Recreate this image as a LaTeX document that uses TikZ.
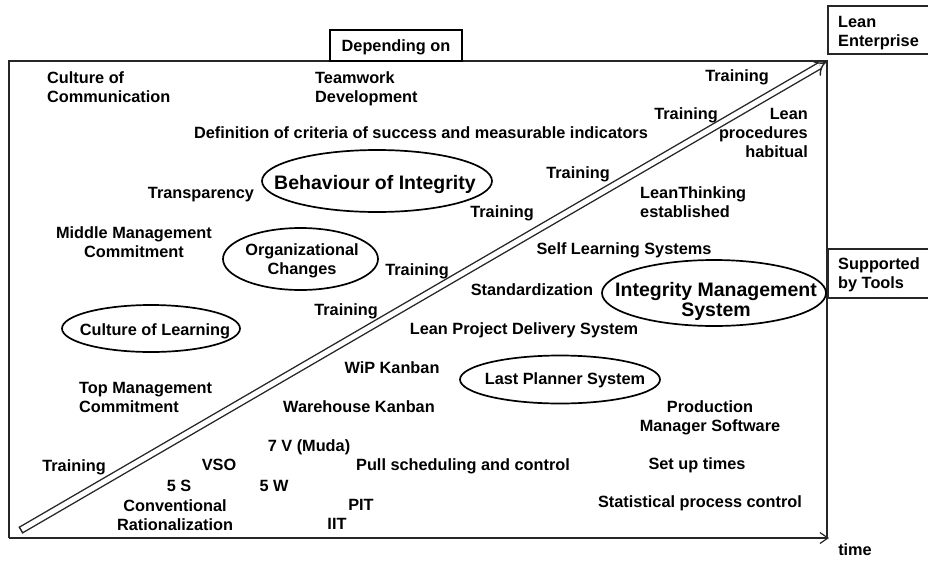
\documentclass[tikz,border=0pt]{standalone}
\usepackage{fontspec}
\setmainfont{Liberation Sans}
\usetikzlibrary{arrows.meta,calc}
\begin{document}
\begin{tikzpicture}[x=1pt,y=-1pt,
  txt/.style={font=\fontsize{16.3}{19}\selectfont\bfseries, inner sep=0pt, text height=11.7pt, text depth=0pt},
  multi/.style={font=\fontsize{16.3}{19}\selectfont\bfseries, inner sep=0pt, align=#1},
  bigtxt/.style={font=\fontsize{19.5}{20}\selectfont\bfseries, inner sep=0pt, align=center},
  oval/.style={line width=1.7pt},
  frame/.style={line width=1.2pt, draw=black!85},
  trail/.style={line width=1.4pt, draw=black!85, double=white, double distance=5pt}]
\useasboundingbox (0,0) rectangle (929,560);

% outer frame with time axis
\coordinate (tl) at (9,61);
\coordinate (tr) at (827,61);
\coordinate (bl) at (9,538);
\coordinate (br) at (827,538);
\coordinate (axisend) at (829,538);
\draw[frame] (br) -- (tr) -- (tl) -- (bl);
\draw[frame, -{Straight Barb[length=8pt,width=11pt]}] (bl) -- (axisend);
\node[txt] (time) at (855,550) {time};

% header boxes
\node[txt, draw, line width=1.2pt, minimum width=132pt, minimum height=31pt] (dep) at (396,45.5) {Depending on};
\draw[frame] (928,6) -- (828,6) -- (828,54) -- (928,54);
\node[multi=left, anchor=north west] (lean) at (838,16) {Lean\\Enterprise};
\draw[frame] (928,249) -- (828,249) -- (828,298) -- (928,298);
\node[multi=left, anchor=north west] (tools) at (838,257) {Supported\\by Tools};

% rising double arrow
\coordinate (tail) at (21,530);
\coordinate (tip) at (826,62);
\draw[trail, -{Implies}] (tail) -- (tip);
\draw[frame, line width=1.4pt] ($(tail)!3.9pt!90:(tip)$) -- ($(tail)!3.9pt!-90:(tip)$);

% upper-left field
\node[multi=left, anchor=north west] (comm) at (47,71) {Culture of\\Communication};
\node[multi=left, anchor=north west] (team) at (315,71) {Teamwork\\Development};
\node[txt] (crit) at (421,133) {Definition of criteria of success and measurable indicators};
\node[txt] (transp) at (201,193) {Transparency};
\node[bigtxt, text height=14pt, text depth=0pt] (behav) at (375,182) {Behaviour of Integrity};
\draw[oval] (377,181) ellipse [x radius=115, y radius=31];
\node[multi=center, anchor=north] (middle) at (134,226) {Middle Management\\Commitment};
\node[multi=center] (org) at (302,261) {Organizational\\Changes};
\draw[oval] (300.5,259) ellipse [x radius=77.5, y radius=31];
\node[txt] (learn) at (155,330) {Culture of Learning};
\draw[oval] (151,328.5) ellipse [x radius=89, y radius=23.5];
\node[multi=left, anchor=north west] (top) at (79,382) {Top Management\\Commitment};

% training steps along the arrow
\node[txt] (tr1) at (74,466) {Training};
\node[txt] (tr2) at (346,310) {Training};
\node[txt] (tr3) at (417,270) {Training};
\node[txt] (tr4) at (502,212) {Training};
\node[txt] (tr5) at (578,173) {Training};
\node[txt] (tr6) at (686,114) {Training};
\node[txt] (tr7) at (737,76) {Training};

% upper-right field
\node[multi=right, anchor=north east] (habit) at (808,108) {Lean\\procedures\\habitual};
\node[multi=left, anchor=north west] (think) at (640,186) {LeanThinking\\established};
\node[txt] (self) at (624,249) {Self Learning Systems};
\node[txt] (std) at (532,290) {Standardization};
\node[bigtxt] (ims) at (716,301) {Integrity Management\\System};
\draw[oval] (714,293) ellipse [x radius=112, y radius=33];
\node[txt] (lpds) at (524,329) {Lean Project Delivery System};
\node[txt] (wip) at (392,368) {WiP Kanban};
\node[txt] (lps) at (565,379) {Last Planner System};
\draw[oval] (560,379.5) ellipse [x radius=100, y radius=24];
\node[txt] (ware) at (359,407) {Warehouse Kanban};
\node[multi=center, anchor=north] (prod) at (710,400) {Production\\Manager Software};

% lower field: tools
\node[txt] (muda) at (309,446) {7 V (Muda)};
\node[txt] (pull) at (463,465) {Pull scheduling and control};
\node[txt] (setup) at (697,464) {Set up times};
\node[txt] (vso) at (219,465) {VSO};
\node[txt] (fives) at (179,486) {5 S};
\node[txt] (fivew) at (274,486) {5 W};
\node[multi=center, anchor=north] (conv) at (175,499) {Conventional\\Rationalization};
\node[txt] (pit) at (361,505) {PIT};
\node[txt] (iit) at (337,524) {IIT};
\node[txt] (spc) at (700,502) {Statistical process control};
\end{tikzpicture}
\end{document}
